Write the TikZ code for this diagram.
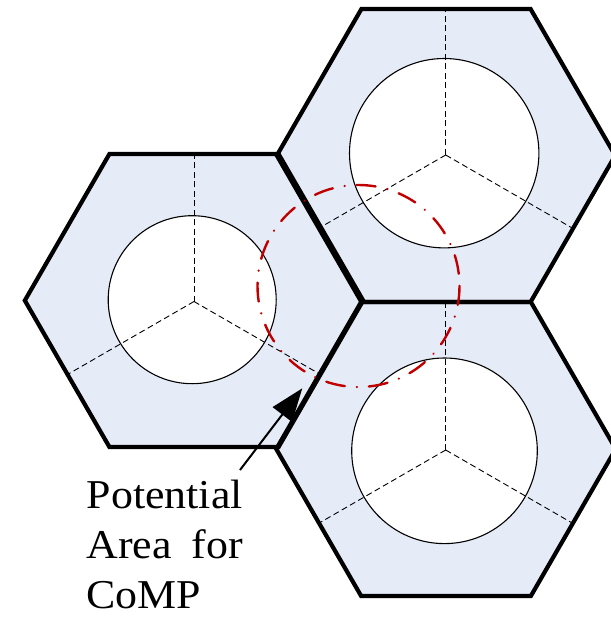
\documentclass[tikz,border=0pt]{standalone}
\usepackage{fontspec}
\setmainfont{Liberation Serif}[FakeStretch=1.07]
\usetikzlibrary{arrows.meta}
\definecolor{cellfill}{RGB}{230,236,247}
\definecolor{compred}{RGB}{192,0,0}
\tikzset{
  cellhex/.style={fill=cellfill, draw=none},
  celledge/.style={draw=black, line width=4.2pt, line join=miter},
  coverage/.style={draw=black, fill=white, line width=1.1pt},
  sector/.style={draw=black, line width=0.9pt, dash pattern=on 6pt off 3.5pt},
  comparea/.style={draw=compred, line width=2.4pt, line cap=round, dash pattern=on 19pt off 12pt on 0.1pt off 12pt},
  pointer/.style={draw=black, line width=2pt, -{Triangle[length=33pt,width=24pt]}},
  lbl/.style={anchor=base west, inner sep=0pt, font=\fontsize{41}{52}\selectfont}
}
\newcommand{\hexpath}[3]{% center x, center y, half-height
  ({#1+#3/0.866},{#2}) -- ({#1+#3/1.732},{#2+#3}) -- ({#1-#3/1.732},{#2+#3}) --
  ({#1-#3/0.866},{#2}) -- ({#1-#3/1.732},{#2-#3}) -- ({#1+#3/1.732},{#2-#3}) -- cycle}
\newcommand{\sectorlines}[3]{%
  \coordinate (#1-c) at (#2,#3);
  \coordinate (#1-n) at (#2,{#3-146.5});
  \coordinate (#1-sw) at ({#2-126.9},{#3+73.25});
  \coordinate (#1-se) at ({#2+126.9},{#3+73.25});
  \draw[sector] (#1-c) -- (#1-n);
  \draw[sector] (#1-c) -- (#1-sw);
  \draw[sector] (#1-c) -- (#1-se);}
\begin{document}
\begin{tikzpicture}[x=1pt,y=-1pt]
\useasboundingbox (0,0) rectangle (610,617);
\fill[white] (0,0) rectangle (610,617);
% cell fills
\path[cellhex] \hexpath{194}{300.5}{146.5};
\path[cellhex] \hexpath{446}{155.5}{146.5};
\path[cellhex] \hexpath{446}{449}{147};
% coverage circles
\draw[coverage] (192.2,299.7) circle[radius=84];
\draw[coverage] (444.2,153.2) circle[radius=94.7];
\draw[coverage] (444.5,450.8) circle[radius=92.8];
% sector lines
\sectorlines{L}{194}{301.5}
\sectorlines{T}{445.7}{155}
\sectorlines{B}{445.7}{450}
% cell outlines
\path[celledge] \hexpath{194}{300.5}{146.5};
\path[celledge] \hexpath{446}{155.5}{146.5};
\path[celledge] \hexpath{446}{449}{147};
% CoMP area
\draw[comparea] (358.5,286) circle[radius=101];
% label and pointer
\node[lbl] (lbl1) at (86.5,508) {Potential};
\node[lbl] (lbl2) at (86.5,558.5) {\makebox[156pt][s]{Area for}};
\node[lbl] (lbl3) at (86.5,608) {CoMP};
\coordinate (tail) at (240,470);
\coordinate (tip) at (302.3,388.3);
\draw[pointer] (tail) -- (tip);
\end{tikzpicture}
\end{document}
